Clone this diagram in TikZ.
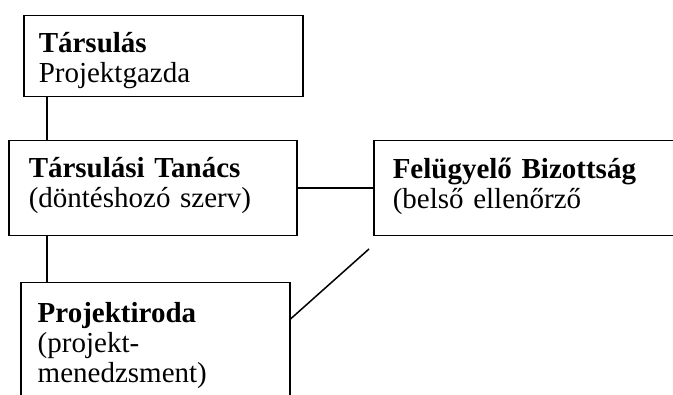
\documentclass[tikz,border=0pt]{standalone}
\usepackage{fontspec}
\setmainfont{Liberation Serif}
\begin{document}
\begin{tikzpicture}
  [x=1pt,y=-1pt,line width=1.5pt,
   every node/.style={draw,rectangle,anchor=north west,align=left,inner ysep=0pt,
     font=\fontsize{29}{30}\selectfont}]
  \useasboundingbox (0,0) rectangle (673,395);
  \clip (0,0) rectangle (673,395);
  \node[inner xsep=15pt,text width=249pt,text height=37pt,text depth=44pt] (tars) at (23,15) {\textbf{Társulás}\\Projektgazda};
  \node[inner xsep=20pt,text width=248pt,text height=37pt,text depth=58pt] (tanacs) at (8,140) {\textbf{Társulási Tanács}\\(döntéshozó szerv)};
  \node[inner xsep=19pt,text width=300pt,text height=38pt,text depth=57pt] (fb) at (373,140) {\textbf{Felügyelő Bizottság}\\(belső ellenőrző};
  \node[inner xsep=17pt,text width=235pt,text height=40pt,text depth=110pt] (iroda) at (20,282) {\textbf{Projektiroda}\\(projekt-\\menedzsment)};
  \coordinate (stem) at (47,0);
  \coordinate (tip) at (369,249);
  \draw (tars.south -| stem) -- (tanacs.north -| stem);
  \draw (tanacs.south -| stem) -- (iroda.north -| stem);
  \draw (tanacs) -- (fb);
  \draw ([yshift=-37pt]iroda.north east) -- (tip);

\end{tikzpicture}
\end{document}
